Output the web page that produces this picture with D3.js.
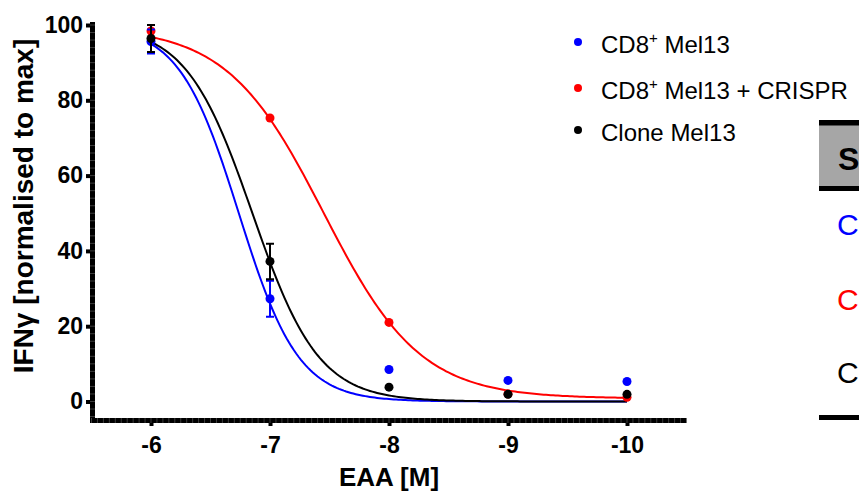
<!DOCTYPE html>
<html>
<head>
<meta charset="utf-8">
<script src="https://cdn.jsdelivr.net/npm/d3@7"></script>
<style>
  body { margin: 0; background: #fff; }
  svg { display: block; }
  text { font-family: "Liberation Sans", Arial, sans-serif; }
</style>
</head>
<body>
<svg width="859" height="493"></svg>
<script>
// dose (log M) and responses
const logDoses = [-6, -7, -8, -9, -10]
const cd8Mean = [95.6, 27.3, 8.5, 5.6, 5.3]
const cd8Sem = [3.2, 4.8, 0, 0, 0]
const crisprMean = [98.4, 75.3, 21.0, 2.0, 1.1]
const crisprSem = [0, 0, 0, 0, 0]
const cloneMean = [96.4, 37.2, 3.8, 1.9, 1.9]
const cloneSem = [3.6, 4.7, 0, 0, 0]

// fitted sigmoid parameters (top, bottom, logEC50, hill)
const fitTop = [100, 99.5, 100]
const fitBottom = [0, 0.8, 0]
const fitLogEC50 = [-6.738, -7.45, -6.852]
const fitHill = [1.733, 1.07, 1.558]

const seriesNames = ['CD8', 'CD8', 'Clone Mel13']
const seriesColors = ['#0000ff', '#ff0000', '#000000']
const yTicks = [0, 20, 40, 60, 80, 100]
const tableRowLabels = ['C', 'C', 'C']

const series = [
  { mean: cd8Mean, sem: cd8Sem },
  { mean: crisprMean, sem: crisprSem },
  { mean: cloneMean, sem: cloneSem },
].map((s, i) => ({
  ...s,
  color: seriesColors[i],
  top: fitTop[i], bottom: fitBottom[i], ec50: fitLogEC50[i], hill: fitHill[i]
}))

const svg = d3.select('svg')

const x = d3.scaleLinear().domain([-6, -10]).range([151, 627])
const y = d3.scaleLinear().domain([0, 100]).range([401.5, 25])

// minor tick texture on the axes
const g = svg.append('g')
const yMinor = d3.range(-4, 101, 2)
const xMinor = d3.range(-5.5, -10.51, -0.05)

g.append('line')
  .attr('x1', 92.5).attr('x2', 92.5)
  .attr('y1', y(100) - 3).attr('y2', 423)
  .attr('stroke', '#000').attr('stroke-width', 5)
g.append('line')
  .attr('x1', 90).attr('x2', x(-10.5))
  .attr('y1', 420.5).attr('y2', 420.5)
  .attr('stroke', '#000').attr('stroke-width', 5)

g.selectAll('.ym')
  .data(yMinor)
  .join('line')
  .attr('x1', 90).attr('x2', 95)
  .attr('y1', d => y(d)).attr('y2', d => y(d))
  .attr('stroke', '#666').attr('stroke-width', 0.6)
g.selectAll('.xm')
  .data(xMinor)
  .join('line')
  .attr('y1', 418).attr('y2', 423)
  .attr('x1', d => x(d)).attr('x2', d => x(d))
  .attr('stroke', '#666').attr('stroke-width', 0.6)

// major ticks
const yAxis = svg.append('g')
  .attr('transform', 'translate(90,0)')
  .call(d3.axisLeft(y).tickValues(yTicks).tickSize(4).tickPadding(3))
yAxis.select('.domain').remove()
yAxis.selectAll('.tick line').attr('stroke-width', 4)
yAxis.selectAll('.tick text')
  .attr('font-size', 23).attr('font-weight', 'bold').attr('fill', '#000')
  .attr('font-family', '"Liberation Sans", Arial, sans-serif')

const xAxis = svg.append('g')
  .attr('transform', 'translate(0,423)')
  .call(d3.axisBottom(x).tickValues(logDoses).tickFormat(d => String(d)).tickSize(3).tickPadding(11))
xAxis.select('.domain').remove()
xAxis.selectAll('.tick line').attr('stroke-width', 4)
xAxis.selectAll('.tick text')
  .attr('font-size', 23).attr('font-weight', 'bold').attr('fill', '#000')
  .attr('font-family', '"Liberation Sans", Arial, sans-serif')

// axis titles
svg.append('text')
  .attr('x', 389).attr('y', 486)
  .attr('text-anchor', 'middle')
  .attr('font-size', 26).attr('font-weight', 'bold')
  .text('EAA [M]')

svg.append('text')
  .attr('transform', 'translate(33,206) rotate(-90)')
  .attr('text-anchor', 'middle')
  .attr('font-size', 28).attr('font-weight', 'bold')
  .text('IFNγ [normalised to max]')

// fitted curves
const curveX = d3.range(-6, -10.001, -0.02)
const line = d3.line().x(d => x(d[0])).y(d => y(d[1]))

series.forEach(s => {
  const pts = curveX.map(v => [v, s.bottom + (s.top - s.bottom) / (1 + Math.pow(10, (s.ec50 - v) * s.hill))])
  svg.append('path')
    .datum(pts)
    .attr('d', line)
    .attr('fill', 'none')
    .attr('stroke', s.color)
    .attr('stroke-width', 2)
})

// points and error bars (red first, then blue, black on top)
const drawOrder = [1, 0, 2]
drawOrder.forEach(i => {
  const s = series[i]
  const pg = svg.append('g')
  const data = logDoses.map((d, k) => ({ d, m: s.mean[k], e: s.sem[k] }))
  const withErr = data.filter(p => p.e > 0)
  pg.selectAll('.eb')
    .data(withErr)
    .join('path')
    .attr('d', p => {
      const cx = x(p.d), y1 = y(p.m + p.e), y2 = y(p.m - p.e)
      return `M${cx},${y1}V${y2}M${cx - 4},${y1}H${cx + 4}M${cx - 4},${y2}H${cx + 4}`
    })
    .attr('fill', 'none')
    .attr('stroke', s.color)
    .attr('stroke-width', 2)
  pg.selectAll('circle')
    .data(data)
    .join('circle')
    .attr('cx', p => x(p.d))
    .attr('cy', p => y(p.m))
    .attr('r', 4.5)
    .attr('fill', s.color)
})

// legend
const legendY = [42, 88, 130]
const legend = svg.append('g')
legend.selectAll('circle')
  .data(seriesColors)
  .join('circle')
  .attr('cx', 578).attr('cy', (d, i) => legendY[i])
  .attr('r', 4).attr('fill', d => d)

const lt = legend.selectAll('text')
  .data(seriesNames)
  .join('text')
  .attr('x', 601).attr('y', (d, i) => legendY[i] + 11)
  .attr('font-size', 24).attr('fill', '#000')

lt.each(function (d, i) {
  const t = d3.select(this)
  if (i === 2) { t.text(d); return }
  t.append('tspan').text('CD8')
  t.append('tspan').attr('font-size', 15).attr('dy', -10).text('+')
  t.append('tspan').attr('dy', 10).text(i === 0 ? ' Mel13' : ' Mel13 + CRISPR')
})

// table fragment at right edge
const tbl = svg.append('g')
tbl.append('rect')
  .attr('x', 819).attr('y', 121).attr('width', 60).attr('height', 69)
  .attr('fill', '#a6a6a6')
tbl.append('rect').attr('x', 819).attr('y', 120).attr('width', 60).attr('height', 5.5).attr('fill', '#000')
tbl.append('rect').attr('x', 819).attr('y', 186).attr('width', 60).attr('height', 5).attr('fill', '#000')
tbl.append('rect').attr('x', 819).attr('y', 415).attr('width', 60).attr('height', 5).attr('fill', '#000')
tbl.append('text')
  .attr('x', 838).attr('y', 170)
  .attr('font-family', '"Open Sans", sans-serif')
  .attr('font-size', 32).attr('font-weight', 'bold')
  .text('S')
const rowY = [235, 310, 383]
tbl.selectAll('.row')
  .data(seriesColors)
  .join('text')
  .attr('x', 837).attr('y', (d, i) => rowY[i])
  .attr('font-family', '"Open Sans", sans-serif')
  .attr('font-size', 30)
  .attr('fill', d => d)
  .text((d, i) => tableRowLabels[i])
</script>
</body>
</html>
